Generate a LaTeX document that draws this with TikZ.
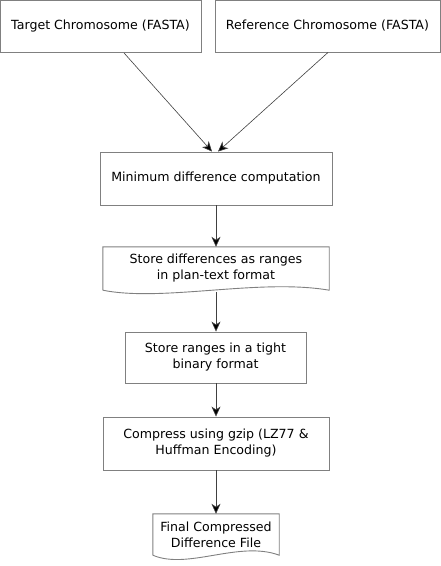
\documentclass[tikz,border=0pt]{standalone}
\usepackage{fontspec}
\setmainfont{DejaVu Sans}
\usetikzlibrary{arrows.meta,calc}
\definecolor{boxline}{HTML}{808080}
\definecolor{arrline}{HTML}{404040}
\tikzset{
  procbox/.style={draw=boxline, line width=0.9pt, fill=white, rectangle, inner sep=0pt,
    align=center, font=\fontsize{12.6}{16}\selectfont},
  docbox/.style={draw=none, rectangle, inner sep=0pt, align=center,
    font=\fontsize{12.6}{16}\selectfont},
  docline/.style={draw=boxline, line width=0.9pt},
  conn/.style={draw=arrline, line width=0.6pt, -{Stealth[length=10pt,width=9pt,inset=3pt,fill=black]}}
}
\begin{document}
\begin{tikzpicture}[x=1pt,y=-1pt]
\useasboundingbox (0,0) rectangle (441,566);
\node[procbox, minimum width=201pt, minimum height=52pt] (tgt) at (100.5,26.5) {Target Chromosome (FASTA)};
\node[procbox, minimum width=225pt, minimum height=52pt] (ref) at (327.5,26) {Reference Chromosome (FASTA)};
\node[procbox, minimum width=232pt, minimum height=53pt] (min) at (216,178.5) {Minimum difference computation};
% document 1
\node[docbox, minimum width=226pt, minimum height=43pt] (sd) at (216,268.5) {Store differences as ranges\\in plan-text format};
\draw[docline] (sd.south west) -- (sd.north west) -- (sd.north east) -- (sd.south east)
  .. controls ($(sd.south east)+(-70,-12)$) and ($(sd.south west)+(60,12)$) .. (sd.south west);
\coordinate (sdb) at ($(sd.south)+(0,2)$);
\node[procbox, minimum width=181pt, minimum height=51pt] (sr) at (215.5,357.5) {Store ranges in a tight\\binary format};
\node[procbox, minimum width=226pt, minimum height=53pt] (cmp) at (216,443.5) {Compress using gzip (LZ77 \&\\Huffman Encoding)};
% document 2
\node[docbox, minimum width=126pt, minimum height=41pt] (fin) at (216,534.5) {Final Compressed\\Difference File};
\draw[docline] (fin.south west) -- (fin.north west) -- (fin.north east) -- (fin.south east)
  .. controls ($(fin.south east)+(-40,-15)$) and ($(fin.south west)+(35,15)$) .. (fin.south west);
% connectors
\draw[conn] ([xshift=23.5pt]tgt.south) -- ([xshift=-4pt]min.north);
\draw[conn] ([xshift=0.5pt]ref.south) -- ([xshift=2pt]min.north);
\draw[conn] (min.south) -- (sd.north);
\draw[conn] (sdb) -- (sdb |- sr.north);
\draw[conn] (sr.south -| cmp.north) -- (cmp.north);
\draw[conn] (cmp.south) -- (fin.north);
\end{tikzpicture}
\end{document}
